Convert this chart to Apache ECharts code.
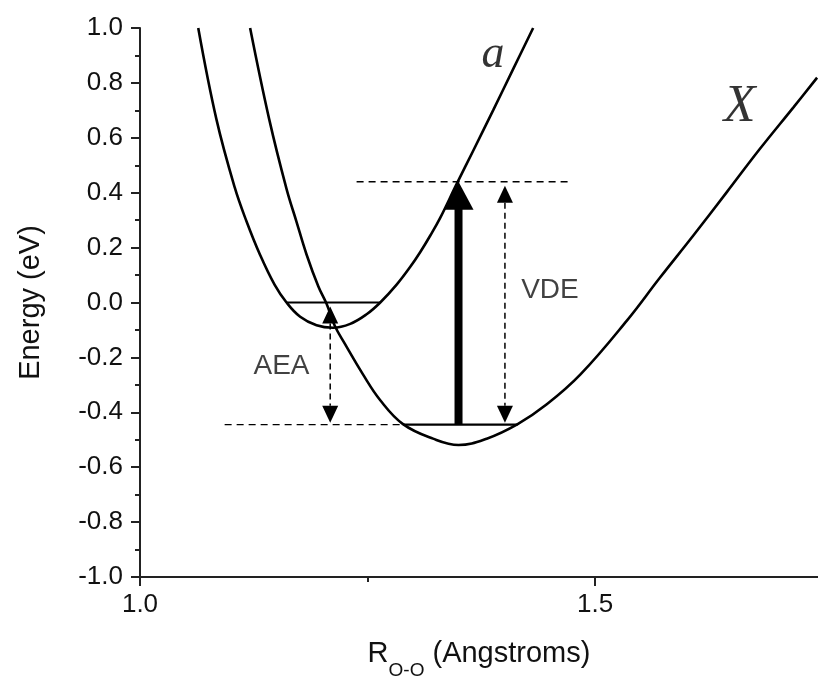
<!DOCTYPE html>
<html>
<head>
<meta charset="utf-8">
<script src="https://cdn.jsdelivr.net/npm/echarts@6/dist/echarts.min.js"></script>
<style>
  html, body { margin: 0; padding: 0; background: #ffffff; }
  #chart { width: 818px; height: 685px; }
</style>
</head>
<body>
<div id="chart"></div>
<script>
// Potential energy curve of the "a" state: O-O distance (Angstroms) and energy (eV)
const aR = [1.064, 1.084, 1.104, 1.117, 1.132, 1.148, 1.161, 1.176, 1.194, 1.212, 1.231, 1.249,
            1.264, 1.282, 1.297, 1.308, 1.319, 1.330, 1.348, 1.366, 1.388, 1.410, 1.432];
const aE = [1.000, 0.667, 0.420, 0.296, 0.173, 0.064, 0.000, -0.052, -0.083, -0.092, -0.078, -0.043,
            0.000, 0.065, 0.130, 0.184, 0.244, 0.309, 0.432, 0.552, 0.700, 0.850, 1.000];

// Potential energy curve of the "X" state
const xR = [1.121, 1.142, 1.161, 1.172, 1.183, 1.196, 1.205, 1.214, 1.225, 1.245, 1.264, 1.289,
            1.322, 1.350, 1.381, 1.415, 1.447, 1.484, 1.535, 1.571, 1.608, 1.645, 1.681, 1.718,
            1.744];
const xE = [1.000, 0.667, 0.414, 0.294, 0.175, 0.058, -0.005, -0.085, -0.150, -0.262, -0.356, -0.443,
            -0.496, -0.519, -0.496, -0.443, -0.371, -0.262, -0.066, 0.089, 0.244, 0.403, 0.559, 0.711,
            0.819];

// Lowest vibrational levels (R span at the level's energy)
const aLevelR = [1.161, 1.264];
const aLevelE = 0.0;
const xLevelR = [1.289, 1.415];
const xLevelE = -0.445;

// Dashed reference lines
const upperGuideR = [1.238, 1.475];
const upperGuideE = 0.44;
const lowerGuideR = [1.093, 1.289];
const lowerGuideE = -0.445;

// Arrows: [R, from energy, to energy]
const transitionArrow = [1.350, -0.445, 0.44];
const vdeArrow = [1.401, -0.445, 0.44];
const aeaArrow = [1.209, -0.445, 0.0];

// Axis ranges, steps and labelled ticks
const xRange = [1.0, 1.745];
const xStep = 0.5;
const xTickValues = [1.0, 1.5];
const yRange = [-1.0, 1.0];
const yStep = 0.2;

const zip = (r, e) => r.map((v, i) => [v, e[i]]);

const INK = '#000000';
const SANS = "'Liberation Sans', Arial, sans-serif";
const SERIF = "'Liberation Serif', 'Times New Roman', serif";

// Thick solid arrow with a large triangular head
function solidArrow(params, api) {
  const r = api.value(0);
  const p0 = api.coord([r, api.value(1)]);
  const p1 = api.coord([r, api.value(2)]);
  const x = p0[0];
  const headW = 15, headL = 28;
  return {
    type: 'group',
    children: [
      { type: 'line', shape: { x1: x, y1: p0[1], x2: x, y2: p1[1] + headL - 1 },
        style: { stroke: '#000', lineWidth: 8 } },
      { type: 'polygon', shape: { points: [[x - headW, p1[1] + headL], [x + headW, p1[1] + headL], [x, p1[1]]] },
        style: { fill: '#000' } }
    ]
  };
}

// Thin dashed arrow with heads at both ends
function dashedDoubleArrow(params, api) {
  const r = api.value(0);
  const pb = api.coord([r, api.value(1)]);
  const pt = api.coord([r, api.value(2)]);
  const x = pb[0];
  const headW = 8, headL = 17;
  const yb = pb[1] - 2;
  const yt = pt[1] + 4;
  return {
    type: 'group',
    children: [
      { type: 'line', shape: { x1: x, y1: yt + headL, x2: x, y2: yb - headL },
        style: { stroke: '#000', lineWidth: 1.5, lineDash: [6, 4] } },
      { type: 'polygon', shape: { points: [[x - headW, yt + headL], [x + headW, yt + headL], [x, yt]] },
        style: { fill: '#000' } },
      { type: 'polygon', shape: { points: [[x - headW, yb - headL], [x + headW, yb - headL], [x, yb]] },
        style: { fill: '#000' } }
    ]
  };
}

const curveStyle = { color: '#000', width: 2.6 };
const levelStyle = { color: '#000', width: 2.2 };
const guideStyle = { color: '#000', width: 1.4, type: [7, 5] };

const option = {
  animation: false,
  backgroundColor: '#ffffff',
  textStyle: { fontFamily: SANS, color: INK },
  grid: { left: 140, top: 28, bottom: 104, right: 0, containLabel: false },
  xAxis: {
    type: 'value',
    min: xRange[0],
    max: xRange[1],
    interval: xStep,
    name: '{m|R}{s|O-O}{m| (Angstroms)}',
    nameLocation: 'middle',
    nameGap: 62,
    nameTextStyle: {
      rich: {
        m: { fontSize: 29, lineHeight: 34, verticalAlign: 'top', color: '#111', fontFamily: SANS },
        s: { fontSize: 19, lineHeight: 20, verticalAlign: 'top', padding: [22, 0, 0, 0], color: '#111', fontFamily: SANS }
      }
    },
    axisLine: { show: true, onZero: false, lineStyle: { color: '#222', width: 2 } },
    axisTick: { show: true, inside: false, length: 9, customValues: xTickValues,
                lineStyle: { color: '#222', width: 2 } },
    minorTick: { show: true, splitNumber: 2, length: 5, lineStyle: { color: '#222', width: 2 } },
    axisLabel: { show: true, margin: 15, fontSize: 26, color: '#111', customValues: xTickValues,
                 formatter: v => v.toFixed(1) },
    splitLine: { show: false },
    minorSplitLine: { show: false }
  },
  yAxis: {
    type: 'value',
    min: yRange[0],
    max: yRange[1],
    interval: yStep,
    name: 'Energy (eV)',
    nameLocation: 'middle',
    nameGap: 95,
    nameTextStyle: { fontSize: 29, color: '#111', fontFamily: SANS },
    axisLine: { show: true, onZero: false, lineStyle: { color: '#222', width: 2 } },
    axisTick: { show: true, inside: false, length: 9, lineStyle: { color: '#222', width: 2 } },
    minorTick: { show: true, splitNumber: 2, length: 5, lineStyle: { color: '#222', width: 2 } },
    axisLabel: { show: true, margin: 17, fontSize: 26, color: '#111', formatter: v => v.toFixed(1) },
    splitLine: { show: false },
    minorSplitLine: { show: false }
  },
  series: [
    { name: 'a', type: 'line', data: zip(aR, aE), smooth: 0.4,
      showSymbol: false, symbol: 'none', lineStyle: curveStyle, silent: true },
    { name: 'X', type: 'line', data: zip(xR, xE), smooth: 0.4,
      showSymbol: false, symbol: 'none', lineStyle: curveStyle, silent: true },
    { name: 'a level', type: 'line', data: [[aLevelR[0], aLevelE], [aLevelR[1], aLevelE]],
      symbol: 'none', lineStyle: levelStyle, silent: true },
    { name: 'X level', type: 'line', data: [[xLevelR[0], xLevelE], [xLevelR[1], xLevelE]],
      symbol: 'none', lineStyle: levelStyle, silent: true },
    { name: 'upper guide', type: 'line', data: [[upperGuideR[0], upperGuideE], [upperGuideR[1], upperGuideE]],
      symbol: 'none', lineStyle: guideStyle, silent: true },
    { name: 'lower guide', type: 'line', data: [[lowerGuideR[0], lowerGuideE], [lowerGuideR[1], lowerGuideE]],
      symbol: 'none', lineStyle: guideStyle, silent: true },
    { name: 'transition', type: 'custom', renderItem: solidArrow, data: [transitionArrow], silent: true },
    { name: 'gaps', type: 'custom', renderItem: dashedDoubleArrow, data: [vdeArrow, aeaArrow], silent: true },
    {
      name: 'annotations', type: 'scatter', symbolSize: 1, silent: true,
      itemStyle: { color: 'rgba(0,0,0,0)' },
      label: { show: true, position: 'inside', color: INK },
      data: [
        { value: [1.388, 0.902], label: { formatter: 'a', fontFamily: SERIF, fontStyle: 'italic', fontSize: 46 } },
        { value: [1.659, 0.711], label: { formatter: 'X', fontFamily: SERIF, fontStyle: 'italic', fontSize: 52 } },
        { value: [1.4505, 0.043], label: { formatter: 'VDE', fontFamily: SANS, fontSize: 28, color: '#111' } },
        { value: [1.1555, -0.233], label: { formatter: 'AEA', fontFamily: SANS, fontSize: 28, color: '#111' } }
      ]
    }
  ]
};

const chart = echarts.init(document.getElementById('chart'), null, { renderer: 'canvas' });
chart.setOption(option);
</script>
</body>
</html>
